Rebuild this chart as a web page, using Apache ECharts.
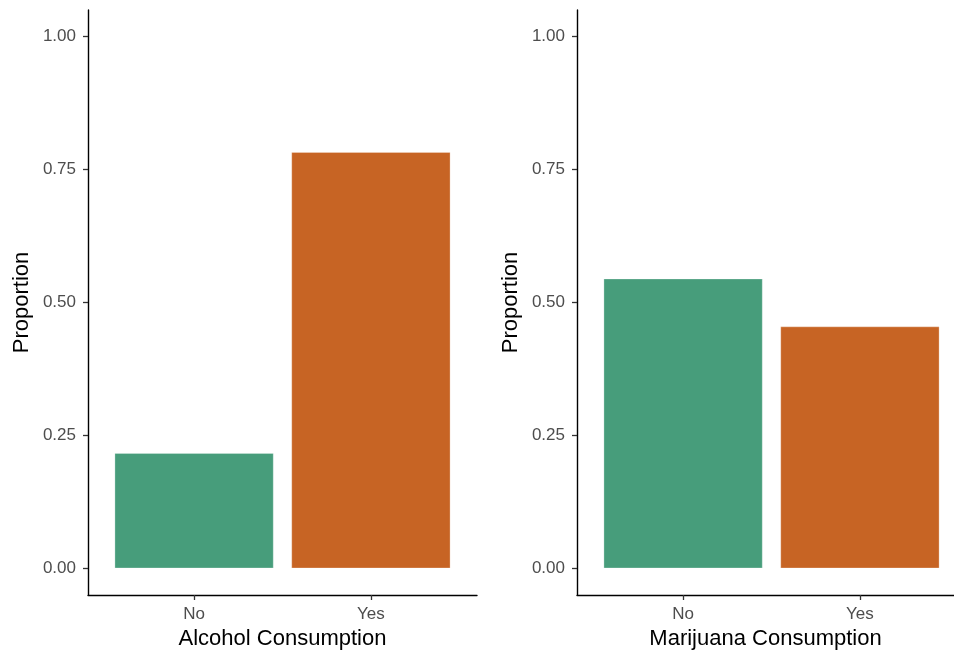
<!DOCTYPE html>
<html><head><meta charset="utf-8">
<script src="https://cdn.jsdelivr.net/npm/echarts@6/dist/echarts.min.js"></script>
<style>html,body{margin:0;padding:0;background:#fff}#c{width:954px;height:655px}</style>
</head><body><div id="c"></div>
<script>
const categories = ['No', 'Yes'];
const alcoholValues = [0.217, 0.783];
const marijuanaValues = [0.545, 0.455];
const yTicks = [0, 0.25, 0.5, 0.75, 1.0];
const barColors = ['#479D7B', '#C76424'];
const panelTitles = ['Alcohol Consumption', 'Marijuana Consumption'];

const font = 'Liberation Sans, Arial, Helvetica, sans-serif';
const chart = echarts.init(document.getElementById('c'), null, {renderer: 'canvas'});

function xAxisFor(i, maxV) {
  return {
    type: 'value', gridIndex: i, min: 0.4, max: maxV,
    name: panelTitles[i], nameLocation: 'middle', nameGap: 33,
    nameTextStyle: {fontFamily: font, fontSize: 22, color: '#000'},
    axisLine: {show: true, onZero: false, lineStyle: {color: '#000', width: 1.4}},
    axisTick: {show: true, customValues: [1, 2], length: 5, lineStyle: {color: '#333', width: 1.3}},
    axisLabel: {customValues: [1, 2], formatter: v => categories[Math.round(v) - 1], margin: 11,
      fontFamily: font, fontSize: 17, color: '#4d4d4d'},
    splitLine: {show: false}
  };
}
function yAxisFor(i) {
  return {
    type: 'value', gridIndex: i, min: -0.05, max: 1.05,
    name: 'Proportion', nameLocation: 'middle', nameGap: 55,
    nameTextStyle: {fontFamily: font, fontSize: 22, color: '#000'},
    axisLine: {show: true, onZero: false, lineStyle: {color: '#000', width: 1.4}},
    axisTick: {show: true, customValues: yTicks, length: 5, lineStyle: {color: '#333', width: 1.3}},
    axisLabel: {customValues: yTicks, formatter: v => v.toFixed(2), margin: 12,
      fontFamily: font, fontSize: 17, color: '#4d4d4d'},
    splitLine: {show: false}
  };
}
function seriesFor(i, vals) {
  return {
    type: 'bar', xAxisIndex: i, yAxisIndex: i, barWidth: '90%',
    data: vals.map((v, k) => ({value: [k + 1, v], itemStyle: {color: barColors[k], borderColor: 'rgba(255,255,255,0.35)', borderWidth: 0.8}})),
    silent: true, animation: false
  };
}

chart.setOption({
  backgroundColor: '#fff',
  animation: false,
  grid: [
    {left: 88, right: 954 - 477, top: 10, bottom: 57, containLabel: false},
    {left: 577, right: 0, top: 10, bottom: 57, containLabel: false}
  ],
  xAxis: [xAxisFor(0, 2.6), xAxisFor(1, 2.532)],
  yAxis: [yAxisFor(0), yAxisFor(1)],
  series: [seriesFor(0, alcoholValues), seriesFor(1, marijuanaValues)]
});
</script></body></html>
